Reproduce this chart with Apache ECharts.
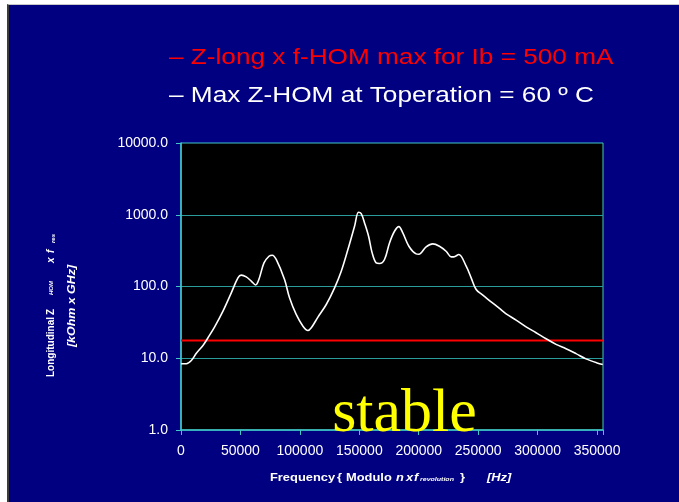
<!DOCTYPE html>
<html>
<head>
<meta charset="utf-8">
<script src="https://cdn.jsdelivr.net/npm/echarts@6/dist/echarts.min.js"></script>
<style>
html,body{margin:0;padding:0;background:#ffffff;width:679px;height:502px;overflow:hidden}
#bg{position:absolute;left:7px;top:4px;width:672px;height:498px;background:#000080;border-left:2px solid #3c3c3c;border-top:1px solid #c8c8c8;box-sizing:border-box}
#chart{position:absolute;left:0;top:0;width:679px;height:502px}
</style>
</head>
<body>
<div id="bg"></div>
<div id="chart"></div>
<script>
// Frequency (Hz) of the traced Max Z-HOM curve
const freqHz = [0, 4500, 8700, 12900, 18500, 22700, 28300, 35300, 42300, 47900,
  50700, 54900, 59100, 62800, 65500, 69800, 74000, 76800, 80100, 87100,
  91300, 96900, 102600, 106800, 109600, 115200, 122200, 129200, 134800, 140400,
  146000, 149300, 151600, 154400, 157800, 160800, 164200, 167000, 171200, 175400,
  179600, 183300, 186600, 191700, 197800, 200100, 206200, 211800, 217400, 223000,
  227300, 229500, 233700, 239900, 244100, 248300, 253900, 259500, 267900, 273500,
  281900, 290300, 298700, 307100, 315500, 323900, 332300, 340700, 350000, 354800];
// Max Z-HOM at Toperation = 60 C  [kOhm x GHz]
const zHom = [8.4, 8.4, 9.3, 11.7, 15.1, 19.3, 27.4, 45.4, 81.6, 132,
  144, 136, 119, 105, 125, 213, 264, 273, 238, 125,
  69.5, 40.8, 28, 24.4, 26.6, 37.4, 56.1, 95.8, 163, 327,
  691, 1083, 1038, 769, 502, 294, 213, 209, 238, 405,
  589, 684, 558, 364, 285, 282, 357, 393, 364, 310,
  259, 259, 279, 192, 132, 90.8, 75.7, 63.8, 49.4, 41.6,
  34, 27.4, 22.7, 18.7, 15.6, 13.6, 11.6, 9.8, 8.6, 8.2];
// Z-long x f-HOM max for Ib = 500 mA (threshold)
const thresholdFreq = [0, 355000];
const thresholdZ = [17.7, 17.7];

const xMin = 0, xMax = 355000, xStep = 50000;
const yMin = 1, yMax = 10000;

const FONT = '"Liberation Sans", Arial, Helvetica, sans-serif';
const AXIS_C = '#40c8c8';

const chart = echarts.init(document.getElementById('chart'), null, {renderer: 'canvas'});

function txt(x, y, s, opt) {
  opt = opt || {};
  return {
    type: 'text', x: x, y: y, scaleX: opt.sx || 1, z: 100,
    style: {
      text: s, fill: opt.fill || '#ffffff', fontSize: opt.size || 11,
      fontWeight: opt.weight || 'bold', fontStyle: opt.style || 'normal',
      fontFamily: opt.family || FONT, align: opt.align || 'left', verticalAlign: 'middle'
    }
  };
}

const option = {
  animation: false,
  backgroundColor: 'transparent',
  grid: {
    left: 181, right: 76, top: 143, bottom: 72,
    show: true, backgroundColor: '#000000', borderColor: AXIS_C, borderWidth: 1,
    containLabel: false, outerBoundsMode: 'none'
  },
  xAxis: {
    type: 'value', min: xMin, max: xMax, interval: xStep,
    axisLine: {show: true, lineStyle: {color: AXIS_C, width: 1.5}},
    axisTick: {show: true, inside: false, length: 5, lineStyle: {color: AXIS_C}},
    axisLabel: {
      color: '#ffffff', fontSize: 14, fontFamily: FONT, margin: 14,
      formatter: function (v) { return (v % xStep === 0) ? String(v) : ''; }
    },
    splitLine: {show: false}
  },
  yAxis: {
    type: 'log', logBase: 10, min: yMin, max: yMax,
    axisLine: {show: true, lineStyle: {color: AXIS_C, width: 1.5}},
    axisTick: {show: true, inside: false, length: 5, lineStyle: {color: AXIS_C}},
    axisLabel: {
      color: '#ffffff', fontSize: 14, fontFamily: FONT, margin: 13,
      formatter: function (v) { return Number(Math.round(v)).toFixed(1); }
    },
    splitLine: {show: true, showMinLine: false, showMaxLine: false, lineStyle: {color: '#2a9c9c', width: 1}},
    minorTick: {show: false}
  },
  series: [
    {
      name: 'Z-long x f-HOM max for Ib = 500 mA', type: 'line',
      data: thresholdFreq.map((f, i) => [f, thresholdZ[i]]),
      symbol: 'none', lineStyle: {color: '#ff0000', width: 2}, z: 3
    },
    {
      name: 'Max Z-HOM at Toperation = 60 º C', type: 'line',
      data: freqHz.map((f, i) => [f, zHom[i]]),
      symbol: 'none', smooth: 0.35, lineStyle: {color: '#ffffff', width: 1.6}, z: 4
    }
  ],
  graphic: [
    txt(169, 58.4, '\u2013 Z-long x f-HOM max for Ib = 500 mA', {fill: '#ff0000', size: 22, weight: 'normal', sx: 1.19}),
    txt(169, 96.4, '\u2013 Max Z-HOM at Toperation = 60 \u00BA C', {fill: '#ffffff', size: 22, weight: 'normal', sx: 1.19}),
    txt(404.5, 415, 'stable', {fill: '#ffff00', size: 62, weight: 'normal', family: '"Liberation Serif", "Times New Roman", serif', align: 'center'}),
    // x-axis title
    txt(270, 478, 'Frequency', {sx: 1.17}),
    txt(337, 478, '{', {sx: 1.17}),
    txt(346, 478, 'Modulo', {sx: 1.17}),
    txt(396, 478, 'n', {sx: 1.17, style: 'italic'}),
    txt(406, 478, 'x', {sx: 1.17, style: 'italic'}),
    txt(414, 478, 'f', {sx: 1.17, style: 'italic'}),
    txt(420, 479.8, 'revolution', {sx: 1.17, size: 6, style: 'italic'}),
    txt(460, 478, '}', {sx: 1.17}),
    txt(487, 478, '[Hz]', {sx: 1.17, style: 'italic'}),
    // y-axis title (rotated)
    {
      type: 'group', x: 51, y: 377, rotation: Math.PI / 2, z: 100,
      children: [
        txt(0, 0, 'Longitudinal', {size: 10}),
        txt(62, 0, 'Z', {size: 10}),
        txt(82, 0, 'HOM', {size: 6, style: 'italic'}),
        txt(114, 0, 'x', {size: 10, style: 'italic'}),
        txt(124, 0, 'f', {size: 10, style: 'italic'}),
        txt(134, 2.5, 'res', {size: 6, style: 'italic'}),
        txt(71, 21, '[kOhm x GHz]', {size: 11, style: 'italic', align: 'center', sx: 1.13})
      ]
    }
  ]
};
chart.setOption(option);
</script>
</body>
</html>
